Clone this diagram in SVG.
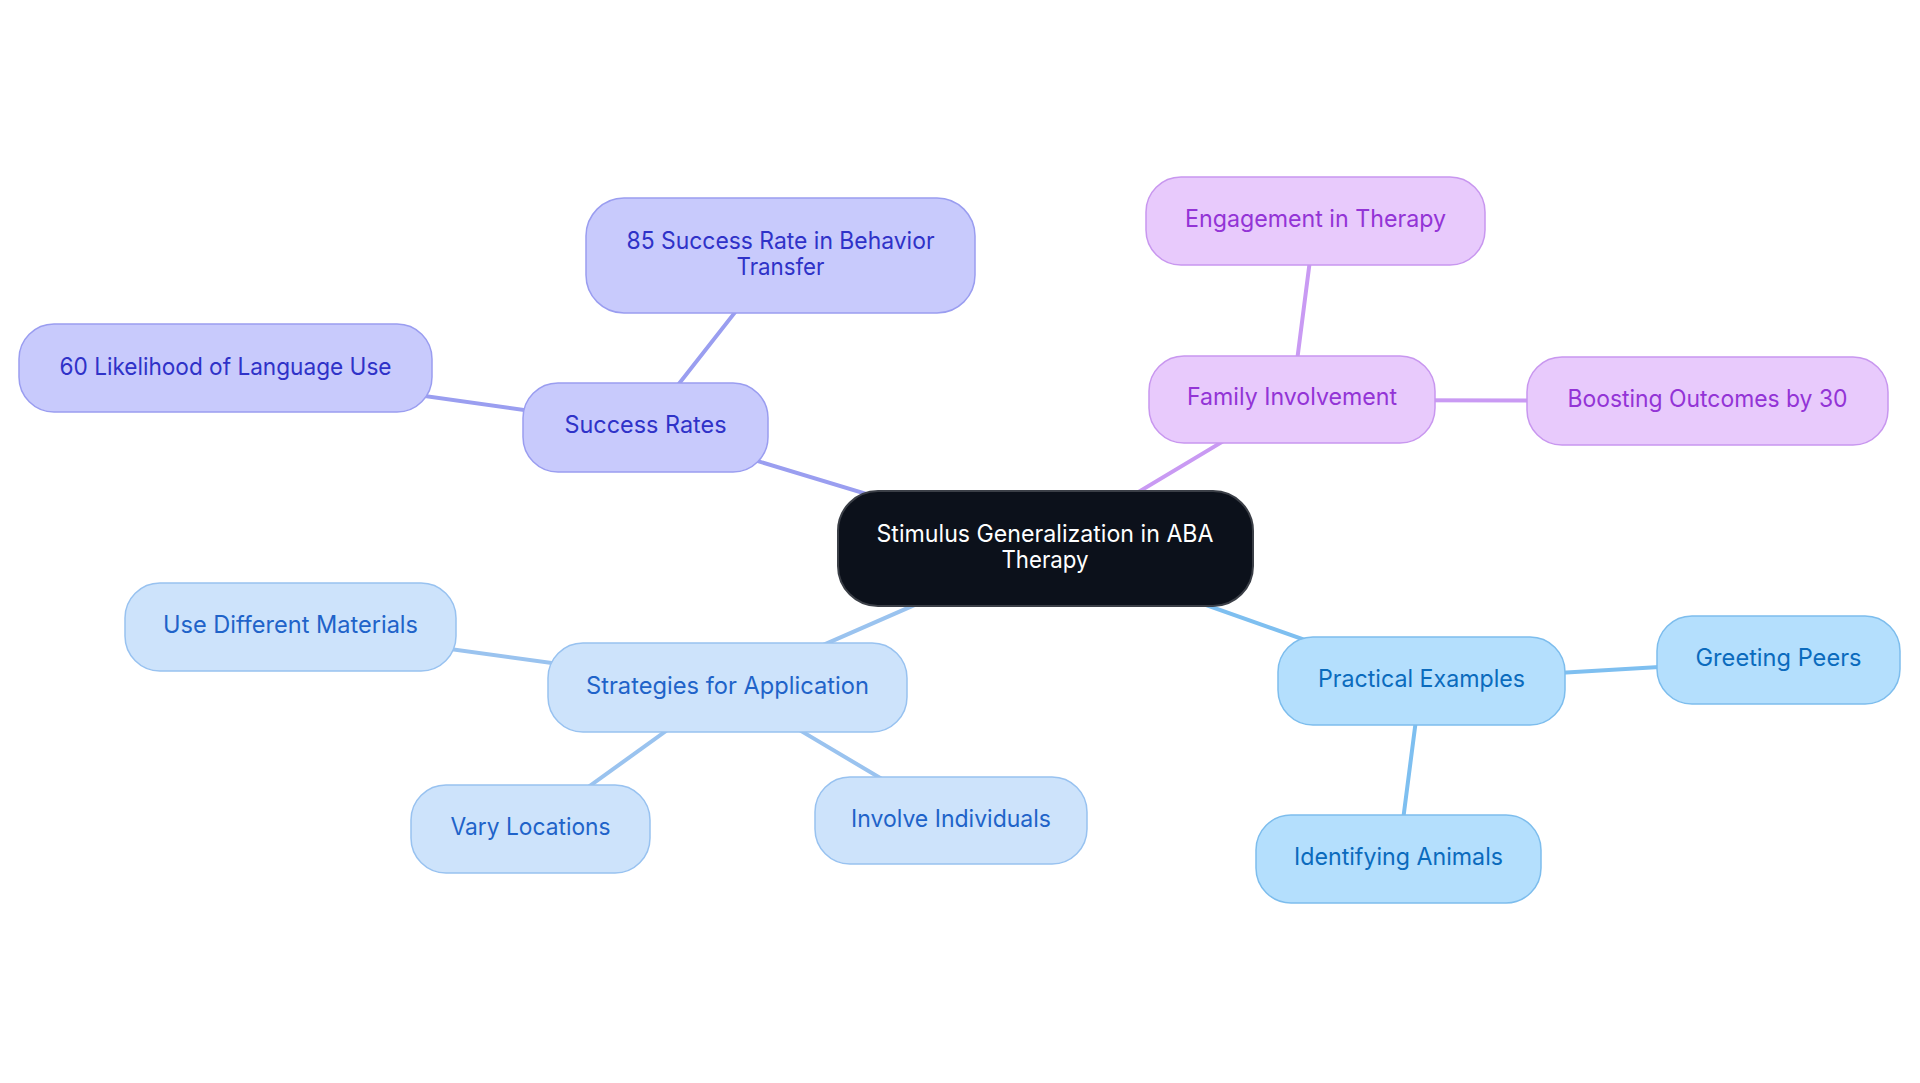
<svg xmlns="http://www.w3.org/2000/svg" width="1920" height="1083" viewBox="0 0 1920 1083">
<style>
text{font-family:Inter,"Open Sans","Liberation Sans",sans-serif;font-size:24px;text-anchor:middle}
.c{fill:none;stroke-width:4;stroke-linecap:round}
.n rect{stroke-width:1.5}
.sr rect{fill:#c8cafc;stroke:#9a9df0}.sr text{fill:#2f32c8}
.fi rect{fill:#e8cafc;stroke:#c897ef}.fi text{fill:#9334d6}
.st rect{fill:#cde3fb;stroke:#98c2f0}.st text{fill:#1f63c9}
.pe rect{fill:#b4dffd;stroke:#7dbded}.pe text{fill:#0b6bbd}
</style>
<rect width="1920" height="1083" fill="#ffffff"/>
<g id="connectors">
<line class="c" stroke="#9a9ef0" x1="1045" y1="548" x2="645" y2="427"/>
<line class="c" stroke="#9a9ef0" x1="645" y1="427" x2="780" y2="255"/>
<line class="c" stroke="#9a9ef0" x1="645" y1="427" x2="225" y2="368"/>
<line class="c" stroke="#c99af3" x1="1045" y1="548" x2="1292" y2="400"/>
<line class="c" stroke="#c99af3" x1="1292" y1="400" x2="1315" y2="221"/>
<line class="c" stroke="#c99af3" x1="1292" y1="400" x2="1707" y2="401"/>
<line class="c" stroke="#9ac3ef" x1="1045" y1="548" x2="727" y2="687"/>
<line class="c" stroke="#9ac3ef" x1="727" y1="687" x2="290" y2="627"/>
<line class="c" stroke="#9ac3ef" x1="727" y1="687" x2="530" y2="829"/>
<line class="c" stroke="#9ac3ef" x1="727" y1="687" x2="951" y2="820"/>
<line class="c" stroke="#7ebff0" x1="1045" y1="548" x2="1421" y2="681"/>
<line class="c" stroke="#7ebff0" x1="1421" y1="681" x2="1778" y2="660"/>
<line class="c" stroke="#7ebff0" x1="1421" y1="681" x2="1398" y2="859"/>
</g>
<g id="root">
<rect x="838" y="491" width="415" height="115" rx="40" fill="#0c111b" stroke="#3b3f47" stroke-width="2"/>
<text x="1045" y="542" fill="#ffffff" textLength="337" lengthAdjust="spacingAndGlyphs">Stimulus Generalization in ABA</text>
<text x="1045" y="568" fill="#ffffff" textLength="87" lengthAdjust="spacingAndGlyphs">Therapy</text>
</g>
<g id="success-rates" class="n sr">
<rect x="523" y="383" width="245" height="89" rx="35"/>
<text x="645.5" y="433" textLength="162" lengthAdjust="spacingAndGlyphs">Success Rates</text>
</g>
<g id="success-85" class="n sr">
<rect x="586" y="198" width="389" height="115" rx="38"/>
<text x="780.5" y="249" textLength="308" lengthAdjust="spacingAndGlyphs">85 Success Rate in Behavior</text>
<text x="780.5" y="275" textLength="88" lengthAdjust="spacingAndGlyphs">Transfer</text>
</g>
<g id="likelihood-60" class="n sr">
<rect x="19" y="324" width="413" height="88" rx="35"/>
<text x="225.5" y="375" textLength="332" lengthAdjust="spacingAndGlyphs">60 Likelihood of Language Use</text>
</g>
<g id="family-involvement" class="n fi">
<rect x="1149" y="356" width="286" height="87" rx="35"/>
<text x="1292" y="405" textLength="210" lengthAdjust="spacingAndGlyphs">Family Involvement</text>
</g>
<g id="engagement" class="n fi">
<rect x="1146" y="177" width="339" height="88" rx="35"/>
<text x="1315.5" y="227" textLength="261" lengthAdjust="spacingAndGlyphs">Engagement in Therapy</text>
</g>
<g id="boosting" class="n fi">
<rect x="1527" y="357" width="361" height="88" rx="35"/>
<text x="1707.5" y="407" textLength="280" lengthAdjust="spacingAndGlyphs">Boosting Outcomes by 30</text>
</g>
<g id="strategies" class="n st">
<rect x="548" y="643" width="359" height="89" rx="35"/>
<text x="727.5" y="694" textLength="283" lengthAdjust="spacingAndGlyphs">Strategies for Application</text>
</g>
<g id="use-materials" class="n st">
<rect x="125" y="583" width="331" height="88" rx="35"/>
<text x="290.5" y="633" textLength="255" lengthAdjust="spacingAndGlyphs">Use Different Materials</text>
</g>
<g id="vary-locations" class="n st">
<rect x="411" y="785" width="239" height="88" rx="35"/>
<text x="530.5" y="835" textLength="160" lengthAdjust="spacingAndGlyphs">Vary Locations</text>
</g>
<g id="involve-individuals" class="n st">
<rect x="815" y="777" width="272" height="87" rx="35"/>
<text x="951" y="827" textLength="200" lengthAdjust="spacingAndGlyphs">Involve Individuals</text>
</g>
<g id="practical-examples" class="n pe">
<rect x="1278" y="637" width="287" height="88" rx="35"/>
<text x="1421.5" y="687" textLength="207" lengthAdjust="spacingAndGlyphs">Practical Examples</text>
</g>
<g id="greeting-peers" class="n pe">
<rect x="1657" y="616" width="243" height="88" rx="35"/>
<text x="1778.5" y="666" textLength="166" lengthAdjust="spacingAndGlyphs">Greeting Peers</text>
</g>
<g id="identifying-animals" class="n pe">
<rect x="1256" y="815" width="285" height="88" rx="35"/>
<text x="1398.5" y="865" textLength="209" lengthAdjust="spacingAndGlyphs">Identifying Animals</text>
</g>
</svg>
